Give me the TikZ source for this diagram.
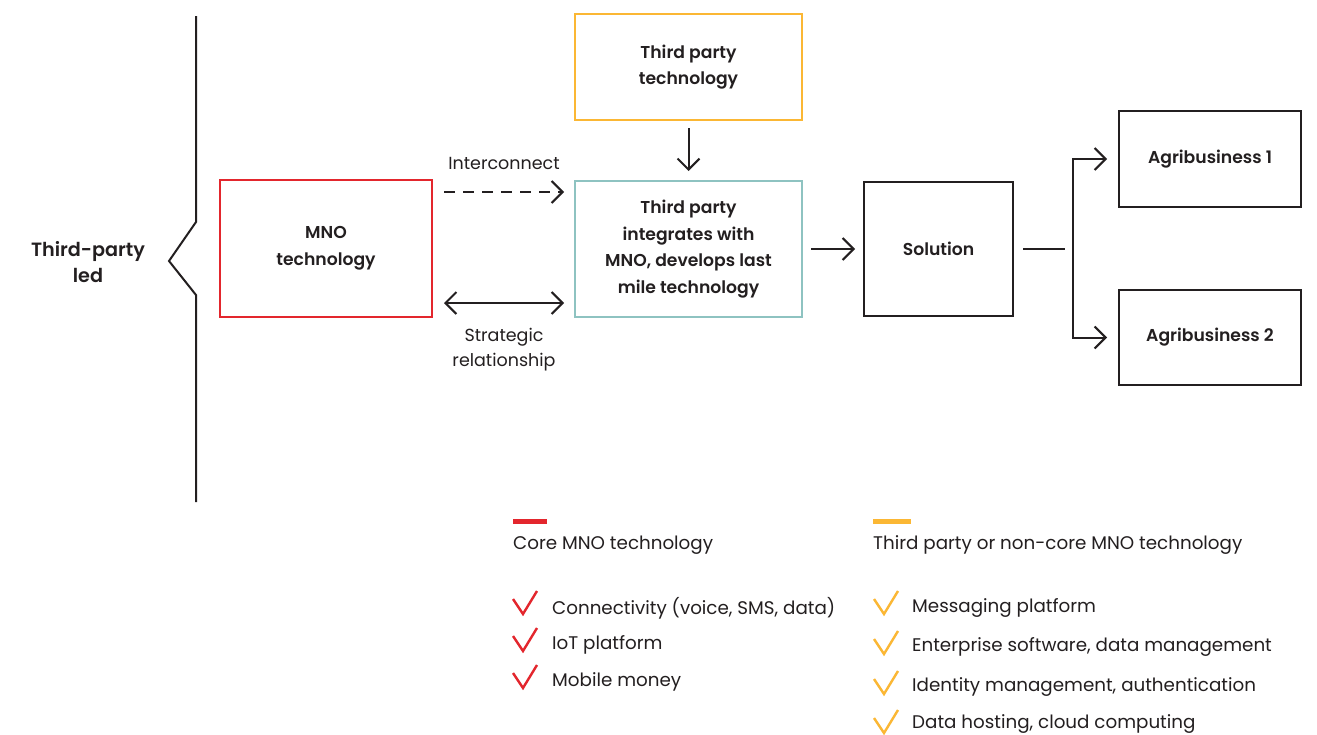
\documentclass[tikz,border=0pt]{standalone}
\usepackage{fontspec}
\setmainfont{Poppins}[BoldFont={Poppins SemiBold}]
\usetikzlibrary{arrows.meta}
\definecolor{mnored}{HTML}{E3262D}
\definecolor{tporange}{HTML}{FBB734}
\definecolor{tealc}{HTML}{8EC3C1}
\definecolor{ink}{HTML}{231F20}
\tikzset{
  box/.style={draw=ink, line width=2pt, minimum width=#1, align=center, text=ink,
              font=\fontsize{17.2}{26.5}\selectfont\bfseries, inner sep=0pt},
  arr/.style={draw=ink, line width=2pt, -{Straight Barb[length=11pt,width=22pt,line width=2pt]}},
  lbl/.style={text=ink, font=\fontsize{17.5}{25}\selectfont, align=center, inner sep=0pt},
  leg/.style={text=ink, font=\fontsize{18.3}{22}\selectfont, anchor=west, inner sep=0pt},
  check/.pic={\draw[line width=2.4pt, line join=miter] (0,8) -- (10,23) -- (24,0);}
}
\begin{document}
\begin{tikzpicture}[x=1pt,y=-1pt]
\useasboundingbox[fill=white] (0,0) rectangle (1317,734);

% bracket
\draw[ink, line width=2pt] (196,16) -- (196,222) -- (169,261) -- (196,295) -- (196,502);
\node[lbl, font=\fontsize{19.2}{26}\selectfont\bfseries] (led) at (88,262) {Third-party\\led};

% boxes
\node[box=212pt, draw=mnored, minimum height=137pt] (mno) at (326,248.5) {MNO\\technology};
\node[box=227pt, draw=tporange, minimum height=106pt] (tpt) at (688.5,67) {Third party\\technology};
\node[box=227pt, draw=tealc, minimum height=136pt] (integ) at (688.5,249) {Third party\\integrates with\\MNO, develops last\\mile technology};
\node[box=149pt, minimum height=134pt] (sol) at (938.5,249) {Solution};
\node[box=182pt, minimum height=96pt] (ag1) at (1210,159) {Agribusiness 1};
\node[box=182pt, minimum height=95pt] (ag2) at (1210,337.5) {Agribusiness 2};

% connectors
\draw[arr, dash pattern=on 11pt off 8pt] ([shift={(11,-56.5)}]mno.east) -- ([shift={(-10,-57)}]integ.west)
  node[lbl, midway, above=21pt] (intc) {Interconnect};
\draw[ink, line width=2pt, {Straight Barb[length=11pt,width=22pt,line width=2pt]}-{Straight Barb[length=11pt,width=22pt,line width=2pt]}]
  ([shift={(11,54.5)}]mno.east) -- ([shift={(-10,54)}]integ.west)
  node[lbl, midway, below=24pt] (strat) {Strategic\\relationship};
\draw[arr] ([yshift=-7]tpt.south) -- ([yshift=9]integ.north);
\draw[arr] ([xshift=8]integ.east) -- ([xshift=-8]sol.west);
\coordinate (split) at (1073,249);
\draw[ink, line width=2pt] ([xshift=9]sol.east) -- ([xshift=51]sol.east);
\draw[arr] (split) |- ([xshift=-11]ag1.west);
\draw[arr] (split) |- ([xshift=-11]ag2.west);

% legend
\draw[mnored, line width=5pt] (513,521.5) -- (547,521.5);
\draw[tporange, line width=5pt] (873,521.5) -- (911,521.5);
\node[leg] (core) at (513,545) {Core MNO technology};
\node[leg] (third) at (873,545) {Third party or non-core MNO technology};

\pic[mnored] at (513,591) {check};
\pic[mnored] at (513,628) {check};
\pic[mnored] at (513,665) {check};
\node[leg] (c1) at (552,608) {Connectivity (voice, SMS, data)};
\node[leg] (c2) at (552,645) {IoT platform};
\node[leg] (c3) at (552,682) {Mobile money};

\pic[tporange] at (874,591) {check};
\pic[tporange] at (874,631) {check};
\pic[tporange] at (874,671) {check};
\pic[tporange] at (874,710) {check};
\node[leg] (o1) at (912,608) {Messaging platform};
\node[leg] (o2) at (912,647) {Enterprise software, data management};
\node[leg] (o3) at (912,687) {Identity management, authentication};
\node[leg] (o4) at (912,724) {Data hosting, cloud computing};
\end{tikzpicture}
\end{document}
